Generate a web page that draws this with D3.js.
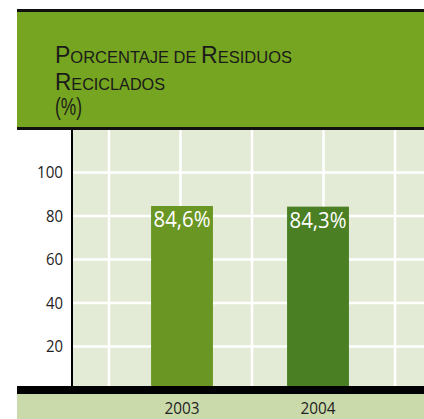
<!DOCTYPE html>
<html>
<head>
<meta charset="utf-8">
<script src="https://cdn.jsdelivr.net/npm/d3@7"></script>
<style>
  html, body { margin: 0; padding: 0; background: #fff; }
  svg { display: block; }
</style>
</head>
<body>
<div id="chart"></div>
<script>
const width = 424;
const height = 419;

// Data
const years = ["2003", "2004"];
const values = [84.6, 84.3];
const valueLabels = ["84,6%", "84,3%"];
const barColors = ["#6a9624", "#4a7f24"];
const yTicks = [20, 40, 60, 80, 100];
const titleLines = [
  [["P", "big"], ["ORCENTAJE DE ", "small"], ["R", "big"], ["ESIDUOS", "small"]],
  [["R", "big"], ["ECICLADOS", "small"]],
  [["(%)", "big"]]
];

const left = 17;
const plotLeft = 72;
const plotTop = 130;
const baseY = 390;

const svg = d3.select("#chart")
  .append("svg")
  .attr("width", width)
  .attr("height", height);

// Header band
svg.append("rect")
  .attr("x", left).attr("y", 10)
  .attr("width", width - left).attr("height", 118)
  .attr("fill", "#76a521");
svg.append("rect")
  .attr("x", left).attr("y", 9)
  .attr("width", width - left).attr("height", 3)
  .attr("fill", "#111");
svg.append("rect")
  .attr("x", left).attr("y", 127)
  .attr("width", width - left).attr("height", 3)
  .attr("fill", "#111");

// Title, small caps built by hand
const titleLen = [237, 110, 27];
titleLines.forEach((parts, i) => {
  const t = svg.append("text")
    .attr("x", 55)
    .attr("y", [63, 90, 115][i])
    .attr("fill", "#1a1a1a")
    .attr("font-family", "'Liberation Sans', Arial, sans-serif")
    .attr("textLength", titleLen[i])
    .attr("lengthAdjust", "spacingAndGlyphs");
  parts.forEach(([s, k]) => {
    t.append("tspan")
      .attr("font-size", k === "big" ? "23px" : "16.5px")
      .text(s);
  });
});

// Plot background
svg.append("rect")
  .attr("x", plotLeft).attr("y", plotTop)
  .attr("width", width - plotLeft).attr("height", baseY - plotTop)
  .attr("fill", "#e3ead5");

// Scales
const y = d3.scaleLinear()
  .domain([0, 100])
  .range([baseY, 172.5]);

const x = d3.scaleBand()
  .domain(years)
  .range([114, 386])
  .padding(0);

// Vertical grid (decorative columns)
const gx = d3.scaleLinear().domain([0, 4]).range([109, 395]);
svg.append("g")
  .selectAll("line")
  .data(d3.range(5))
  .join("line")
  .attr("x1", d => gx(d)).attr("x2", d => gx(d))
  .attr("y1", plotTop).attr("y2", baseY)
  .attr("stroke", "#fff")
  .attr("stroke-width", 2.5);

// Horizontal grid
svg.append("g")
  .selectAll("line")
  .data(yTicks)
  .join("line")
  .attr("x1", plotLeft).attr("x2", width)
  .attr("y1", d => y(d)).attr("y2", d => y(d))
  .attr("stroke", "#fff")
  .attr("stroke-width", 2.5);

// Bars
const barW = x.bandwidth() * 0.455;
svg.append("g")
  .selectAll("rect")
  .data(years)
  .join("rect")
  .attr("x", d => x(d) + x.bandwidth() / 2 - barW / 2)
  .attr("y", (d, i) => y(values[i]))
  .attr("width", barW)
  .attr("height", (d, i) => y(0) - y(values[i]))
  .attr("fill", (d, i) => barColors[i]);

// Value labels
svg.append("g")
  .selectAll("text")
  .data(years)
  .join("text")
  .attr("x", d => x(d) + x.bandwidth() / 2)
  .attr("y", (d, i) => y(values[i]) + 21)
  .attr("text-anchor", "middle")
  .attr("fill", "#fff")
  .attr("font-family", "'Open Sans', 'Noto Sans', sans-serif")
  .attr("font-size", "21px")
  .attr("textLength", 57)
  .attr("lengthAdjust", "spacingAndGlyphs")
  .text((d, i) => valueLabels[i]);

// Y axis
const yAxis = d3.axisLeft(y)
  .tickValues(yTicks)
  .tickSize(0)
  .tickPadding(9);

const yg = svg.append("g")
  .attr("transform", `translate(${plotLeft},0)`)
  .call(yAxis);
yg.select(".domain").remove();
yg.selectAll("text")
  .attr("font-family", "'Open Sans', 'Noto Sans', sans-serif")
  .attr("font-size", "17px")
  .attr("fill", "#222")
  .attr("textLength", d => d === 100 ? 26 : 17)
  .attr("lengthAdjust", "spacingAndGlyphs");

svg.append("line")
  .attr("x1", plotLeft).attr("x2", plotLeft)
  .attr("y1", plotTop).attr("y2", baseY)
  .attr("stroke", "#000")
  .attr("stroke-width", 2);

// Bottom bands
svg.append("rect")
  .attr("x", left).attr("y", 386)
  .attr("width", width - left).attr("height", 8)
  .attr("fill", "#000");
svg.append("rect")
  .attr("x", left).attr("y", 394)
  .attr("width", width - left).attr("height", height - 394)
  .attr("fill", "#cbdaaa");

// X axis labels
const xAxis = d3.axisBottom(x).tickSize(0).tickPadding(0);
const xg = svg.append("g")
  .attr("transform", "translate(0,402)")
  .call(xAxis);
xg.select(".domain").remove();
xg.selectAll("text")
  .attr("font-family", "'Open Sans', 'Noto Sans', sans-serif")
  .attr("font-size", "17px")
  .attr("fill", "#222")
  .attr("textLength", 35)
  .attr("lengthAdjust", "spacingAndGlyphs");
</script>
</body>
</html>
